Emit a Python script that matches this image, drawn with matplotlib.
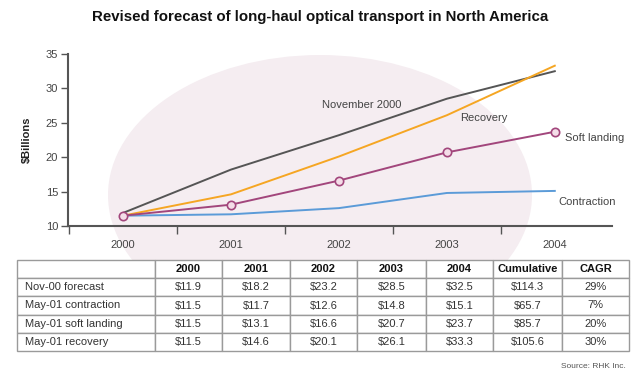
import matplotlib
matplotlib.use("Agg")
import matplotlib.pyplot as plt
from matplotlib.patches import Ellipse

years = [2000, 2001, 2002, 2003, 2004]
nov00 = [11.9, 18.2, 23.2, 28.5, 32.5]
contraction = [11.5, 11.7, 12.6, 14.8, 15.1]
soft_landing = [11.5, 13.1, 16.6, 20.7, 23.7]
recovery = [11.5, 14.6, 20.1, 26.1, 33.3]

row_labels = ["Nov-00 forecast", "May-01 contraction", "May-01 soft landing", "May-01 recovery"]
cumulative = [114.3, 65.7, 85.7, 105.6]
cagr = [29, 7, 20, 30]

plt.rcParams['font.family'] = ['Liberation Sans', 'DejaVu Sans']
txt = '#444444'

fig = plt.figure(figsize=(6.4, 3.74), dpi=100)

# pale pink blob behind everything
bg = fig.add_axes([0, 0, 1, 1], zorder=-1)
bg.set_xlim(0, 640)
bg.set_ylim(374, 0)
bg.axis('off')
bg.add_patch(Ellipse((320, 195), 424, 280, facecolor='#f5edf1', edgecolor='none'))

fig.text(0.5, 1 - 17 / 374, "Revised forecast of long-haul optical transport in North America",
         ha='center', va='center', fontsize=10.8, fontweight='bold', color='#111111')

ax = fig.add_axes([68 / 640, 1 - 226 / 374, 544 / 640, 172 / 374])
ax.patch.set_alpha(0)
ax.plot(years, nov00, color='#555555', lw=1.4)
ax.plot(years, recovery, color='#f5a623', lw=1.4)
ax.plot(years, contraction, color='#5b9bd8', lw=1.4)
ax.plot(years, soft_landing, color='#a2467c', lw=1.4, marker='o', ms=6,
        mfc='#f4dde8', mec='#a2467c', mew=1.2)

ax.set_xlim(1999.49, 2004.53)
ax.set_ylim(10, 35)
ax.set_xticks(years)
ax.set_xticks([1999.5, 2000.5, 2001.5, 2002.5, 2003.5], minor=True)
ax.set_yticks([10, 15, 20, 25, 30, 35])
ax.tick_params(axis='x', which='major', length=0, pad=10, labelsize=8, labelcolor=txt)
ax.tick_params(axis='x', which='minor', length=6, width=1, color='#555555', direction='out')
ax.tick_params(axis='y', length=5, width=1, color='#555555', labelsize=8, labelcolor=txt, pad=2)
for s in ['top', 'right']:
    ax.spines[s].set_visible(False)
for s in ['left', 'bottom']:
    ax.spines[s].set_color('#555555')
    ax.spines[s].set_linewidth(1.5)
ax.set_ylabel("$Billions", fontsize=8, fontweight='bold', color='#222222', labelpad=10)

ax.text(2001.84, 27.6, "November 2000", fontsize=8, color=txt, va='center')
ax.text(2003.12, 25.7, "Recovery", fontsize=8, color=txt, va='center')
ax.text(2004.09, 22.8, "Soft landing", fontsize=8, color=txt, va='center')
ax.text(2004.03, 13.5, "Contraction", fontsize=8, color=txt, va='center')

# table
series = [nov00, contraction, soft_landing, recovery]
header = [""] + [str(y) for y in years] + ["Cumulative", "CAGR"]
cells = []
for lab, vals, cum, c in zip(row_labels, series, cumulative, cagr):
    cells.append([lab] + ["$%.1f" % v for v in vals] + ["$%.1f" % cum, "%d%%" % c])

tax = fig.add_axes([17 / 640, 1 - 351 / 374, 612 / 640, 91 / 374])
tax.axis('off')
widths = [138, 67, 68, 67, 69, 67, 69, 67]
tab = tax.table(cellText=[header] + cells, bbox=[0, 0, 1, 1],
                colWidths=[w / sum(widths) for w in widths], cellLoc='center')
tab.auto_set_font_size(False)
tab.set_fontsize(8)
for (r, c), cell in tab.get_celld().items():
    cell.set_edgecolor('#9a9a9a')
    cell.set_linewidth(1.0)
    cell.set_facecolor('white')
    cell.get_text().set_color('#333333')
    if r == 0:
        cell.get_text().set_fontweight('bold')
        cell.get_text().set_color('#111111')
    if c == 0:
        cell.get_text().set_ha('left')
        cell.PAD = 0.06

fig.text(626 / 640, 1 - 367 / 374, "Source: RHK Inc.", ha='right', va='center',
         fontsize=6, color='#555555')

fig.savefig("out.png", dpi=100)
